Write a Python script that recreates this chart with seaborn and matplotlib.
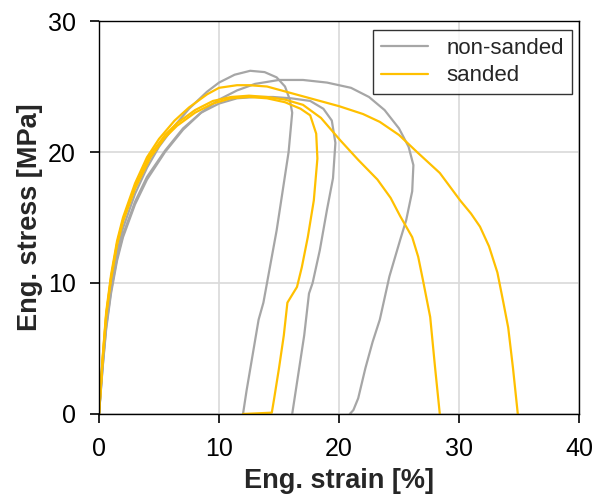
import matplotlib
matplotlib.use("Agg")
import matplotlib.pyplot as plt
import seaborn as sns
import pandas as pd

# stress-strain curves (strain %, stress MPa)
g1_x = [0, 0.3, 0.6, 1, 1.5, 2, 3, 4, 5, 6.3, 7.5, 9, 10, 11.3, 12.6, 13.8, 14.8, 15.5, 15.9, 16.1, 16.0, 15.8, 15.3, 14.8, 14.2, 13.7, 13.3, 12.8, 12.3, 12.0]
g1_y = [0, 3.8, 7, 9.8, 12.3, 14.2, 16.8, 18.8, 20.4, 22, 23.3, 24.6, 25.3, 25.9, 26.2, 26.1, 25.7, 25.0, 24.0, 23.0, 22, 20, 17, 14, 11, 8.5, 7.2, 4.5, 1.8, 0]

g2_x = [0, 0.3, 0.6, 1, 1.5, 2, 3, 4, 5.5, 7, 8.5, 10, 11.5, 13, 15, 17, 19, 21, 22.5, 23.8, 25, 25.8, 26.2, 26.1, 25.6, 25.1, 24.2, 23.4, 22.8, 22.2, 21.6, 21.2, 20.9, 21.0]
g2_y = [0, 3.5, 6.5, 9.2, 11.7, 13.5, 16, 17.9, 20, 21.7, 23, 24, 24.7, 25.2, 25.5, 25.5, 25.3, 24.9, 24.2, 23.2, 21.8, 20.4, 19.0, 17, 14.8, 13.3, 10.5, 7.2, 5.5, 3.5, 1.2, 0.3, 0, 0]

g3_x = [0, 0.3, 0.6, 1, 1.5, 2, 3, 4, 5.5, 7, 8.5, 10, 11.5, 13, 14.5, 16, 17.6, 18.7, 19.4, 19.7, 19.5, 19, 18.4, 17.8, 17.5, 17.1, 16.6, 16.1]
g3_y = [0, 3.6, 6.7, 9.4, 11.9, 13.7, 16.2, 18.1, 20.1, 21.8, 23, 23.7, 24.1, 24.2, 24.2, 24.1, 23.9, 23.3, 22.4, 20.7, 18, 15.6, 12.5, 10, 9.2, 6, 3, 0]

ya_x = [0, 0.3, 0.6, 1, 1.5, 2, 3, 4, 5, 6.3, 7.5, 9, 10, 11.5, 12.5, 14, 16, 18, 20, 22, 23.4, 25, 26.5, 28.4, 30.1, 31, 31.75, 32.5, 33.2, 33.7, 34.1, 34.5, 34.9]
ya_y = [0, 4.3, 7.8, 10.6, 13.2, 15, 17.6, 19.6, 21, 22.4, 23.4, 24.4, 24.9, 25.1, 25.1, 25.0, 24.5, 24.0, 23.5, 22.9, 22.3, 21.3, 20.0, 18.4, 16.3, 15.3, 14.3, 12.8, 10.8, 8.5, 6.6, 3.5, 0]

yb_x = [0, 0.3, 0.6, 1, 1.5, 2, 3, 4.2, 5.5, 6.5, 8, 9.5, 11, 12.5, 14, 15.5, 17, 18.5, 20.1, 21.6, 23.2, 24.3, 25.1, 26.1, 26.6, 27, 27.6, 28, 28.4]
yb_y = [0, 4.2, 7.6, 10.4, 13, 14.8, 17.3, 19.7, 21.3, 22.2, 23.2, 23.9, 24.2, 24.3, 24.2, 24.0, 23.6, 22.6, 20.9, 19.4, 17.9, 16.5, 15.1, 13.5, 12, 10.2, 7.4, 3.6, 0]

yc_x = [0, 0.3, 0.6, 1, 1.5, 2, 3, 4.3, 5.5, 6.5, 8, 9.5, 11, 12.5, 14, 15.5, 16.8, 17.6, 18.1, 18.2, 17.9, 17.4, 16.9, 16.5, 15.7, 15.4, 15, 14.6, 14.4, 12.0]
yc_y = [0, 4.1, 7.5, 10.3, 12.9, 14.7, 17.2, 19.6, 21.1, 22.0, 23.0, 23.7, 24.1, 24.2, 24.1, 23.8, 23.3, 22.8, 21.4, 19.5, 16.3, 13.5, 11.2, 9.7, 8.5, 6, 3.5, 1.2, 0.1, 0]

curves = [
    ("non-sanded", "g1", g1_x, g1_y),
    ("non-sanded", "g2", g2_x, g2_y),
    ("non-sanded", "g3", g3_x, g3_y),
    ("sanded", "ya", ya_x, ya_y),
    ("sanded", "yb", yb_x, yb_y),
    ("sanded", "yc", yc_x, yc_y),
]

rows = []
for group, spec, xs, ys in curves:
    for x, y in zip(xs, ys):
        rows.append({"strain": x, "stress": y, "group": group, "specimen": spec})
df = pd.DataFrame(rows)

sns.set_style("white")
plt.rcParams['font.family'] = ['Liberation Sans', 'DejaVu Sans']

fig = plt.figure(figsize=(5.95, 4.98), dpi=100)
ax = fig.add_axes([0.1664, 0.1687, 0.8067, 0.7891])

palette = {"non-sanded": "#A6A6A6", "sanded": "#FFC000"}
sns.lineplot(data=df, x="strain", y="stress", hue="group", units="specimen",
             estimator=None, sort=False, palette=palette, linewidth=1.6, ax=ax)

ax.set_xlim(0, 40)
ax.set_ylim(0, 30)
ax.set_xticks([0, 10, 20, 30, 40])
ax.set_yticks([0, 10, 20, 30])
ax.grid(True, color="#D9D9D9", linewidth=1.2)
ax.set_axisbelow(True)
for s in ax.spines.values():
    s.set_color("black")
    s.set_linewidth(1.0)
ax.tick_params(axis="both", which="major", direction="out", length=6.5, width=1.2,
               labelsize=18, pad=10, bottom=True, left=True, colors="black")
ax.set_xlabel("Eng. strain [%]", fontsize=19.5, fontweight="bold", labelpad=5)
ax.set_ylabel("Eng. stress [MPa]", fontsize=19.5, fontweight="bold", labelpad=4)

leg = ax.legend(loc="upper right", fontsize=16, frameon=True, fancybox=False,
                edgecolor="black", handlelength=2.1, handletextpad=0.85,
                borderpad=0.35, labelspacing=0.3, borderaxespad=0,
                bbox_to_anchor=(0.9854, 0.9771))
leg.get_frame().set_linewidth(1.0)
for line in leg.get_lines():
    line.set_linewidth(1.6)

fig.savefig("out.png", dpi=100)
